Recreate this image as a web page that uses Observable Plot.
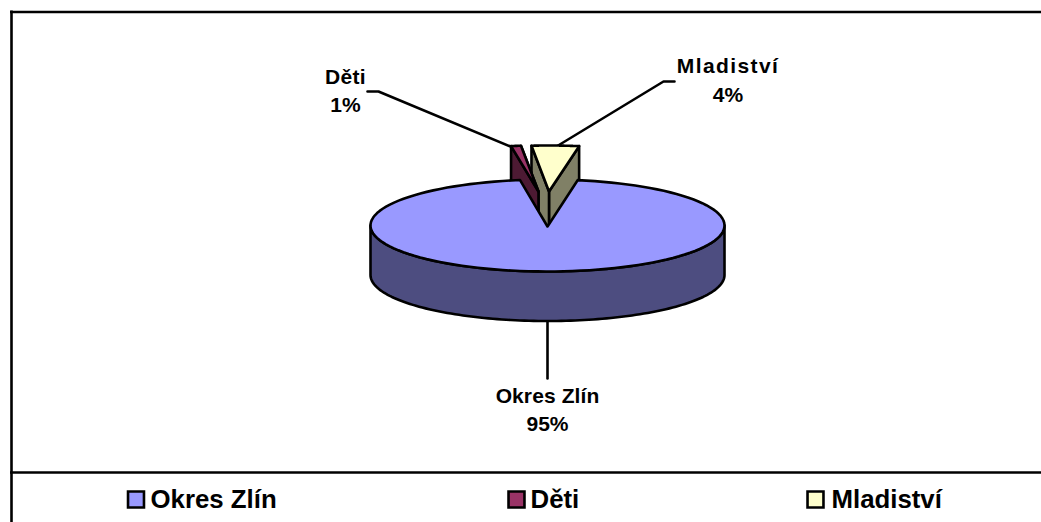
<!DOCTYPE html>
<html><head><meta charset="utf-8">
<style>html,body{margin:0;padding:0;background:#fff}svg{display:block}</style>
<script src="https://cdn.jsdelivr.net/npm/d3@7"></script>
<script src="https://cdn.jsdelivr.net/npm/@observablehq/plot@0.6"></script>
</head><body><div id="chart"></div>
<script>
const categories = ["Okres Zlín", "Děti", "Mladiství"];
const values = [94.8, 0.9, 4.3];
const labels = ["95%", "1%", "4%"];
const topColors = ["#9999FF", "#993366", "#FFFFCC"];
const sideColors = ["#4D4D80", "#4D1A33", "#808066"];

// layout of the 3D pie, in chart units
const rx = 177, ry = 46, depth = 49.5, startDeg = 9.8;
const centers = [[547, 226], [538, 191], [548.5, 191]];
const rimCenterY = [225, 191, 191];
const font = "Arial, 'Liberation Sans', sans-serif";
const lw = 2.6;

const total = d3.sum(values);
let acc = startDeg;
const spans = values.map(v => { const a = acc; acc += v / total * 360; return [a, acc]; });
const rim = (i, deg, dy = 0) => {
  const t = deg * Math.PI / 180;
  return {x: centers[i][0] + rx * Math.sin(t), y: rimCenterY[i] - ry * Math.cos(t) + dy};
};
const arc = (i, a, b, dy = 0) => d3.range(0, 121).map(k => rim(i, a + (b - a) * k / 120, dy));
const apex = (i, dy = 0) => ({x: centers[i][0], y: centers[i][1] + dy});

const poly = (pts, fill) => Plot.line(pts, {x: "x", y: "y", fill, stroke: "black", strokeWidth: lw,
  curve: "linear-closed", strokeLinejoin: "round"});

const wedge = i => {
  const [a, b] = spans[i];
  const r1 = rim(i, a), r2 = rim(i, b);
  return [
    poly([r2, apex(i), apex(i, depth), rim(i, b, depth)], sideColors[i]),
    poly([r1, apex(i), apex(i, depth), rim(i, a, depth)], sideColors[i]),
    poly([apex(i), ...arc(i, a, b)], topColors[i])
  ];
};

const mainWall = [...arc(0, 90, 270), ...arc(0, 270, 90, depth)];
const mainTop = [apex(0), ...arc(0, spans[0][0], spans[0][1])];

const leaders = [
  [{x: 547, y: 321}, {x: 547, y: 378}],
  [{x: 510, y: 146}, {x: 378, y: 91}, {x: 367, y: 91}],
  [{x: 556, y: 146}, {x: 663, y: 81}, {x: 674, y: 81}]
];
const labelAt = [[547, 396, 424], [345, 77, 105], [727.5, 66, 95]];
const labelSpacing = [0.1, 0.3, 1.4];
const legendSwatchX = [135.5, 516, 815];
const legendTextX = [150, 530, 831];
const legendY = 499;

const idx = d3.range(categories.length);
const textStyle = {fontFamily: font, fontWeight: "bold", fill: "black", lineAnchor: "middle"};
const nameLabels = Plot.text(idx, {x: i => labelAt[i][0], y: i => labelAt[i][1], text: i => categories[i], fontSize: 21, className: "name-label", ...textStyle});

const plot = Plot.plot({
  width: 1041, height: 522, margin: 0,
  x: {domain: [0, 1041], range: [0, 1041], axis: null},
  y: {domain: [0, 522], range: [0, 522], axis: null},
  style: {background: "white"},
  marks: [
    Plot.ruleX([11], {y1: 10.5, y2: 522, stroke: "black", strokeWidth: lw}),
    Plot.ruleY([11.5, 472], {x1: 10, x2: 1041, stroke: "black", strokeWidth: lw}),
    ...leaders.map(l => Plot.line(l, {x: "x", y: "y", stroke: "black", strokeWidth: lw})),
    ...wedge(2),
    ...wedge(1),
    poly(mainWall, sideColors[0]),
    poly(mainTop, topColors[0]),
    nameLabels,
    Plot.text(idx, {x: i => labelAt[i][0], y: i => labelAt[i][2], text: i => labels[i], fontSize: 21, ...textStyle}),
    Plot.dot(idx, {x: i => legendSwatchX[i], y: legendY, symbol: "square", r: 9, fill: i => topColors[i], stroke: "black", strokeWidth: lw}),
    Plot.text(idx, {x: i => legendTextX[i], y: legendY, text: i => categories[i], textAnchor: "start", fontSize: 25.8, ...textStyle})
  ]
});
d3.select(plot).selectAll("[aria-label=text]").filter((d, k) => k === 0).selectAll("text")
  .attr("letter-spacing", (d, k) => labelSpacing[k]);
document.getElementById("chart").appendChild(plot);
</script></body></html>
